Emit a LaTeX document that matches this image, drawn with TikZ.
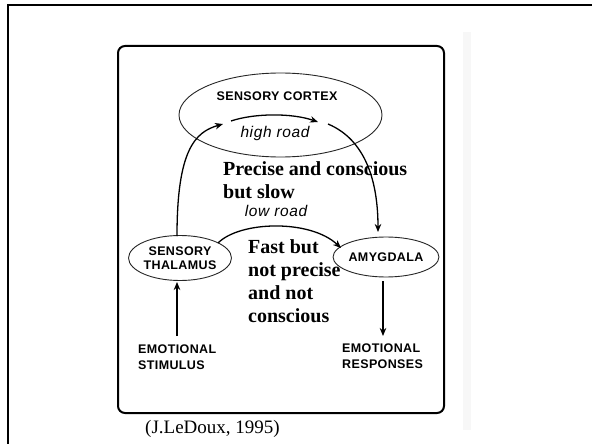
\documentclass[tikz,border=0pt]{standalone}
\usepackage{fontspec}
\setmainfont{Liberation Serif}
\newfontfamily\labfont[LetterSpace=3]{Liberation Sans}
\newfontfamily\roadfont[LetterSpace=4]{Liberation Sans}
\usetikzlibrary{shapes.geometric,arrows.meta}
\begin{document}
\begin{tikzpicture}[x=1pt,y=-1pt,
  oval/.style={ellipse,draw=black!85,line width=0.9pt,inner sep=0pt},
  captext/.style={font=\labfont\fontsize{12.5}{14}\selectfont\bfseries,align=center,inner sep=0pt},
  captextl/.style={font=\labfont\fontsize{12.5}{16}\selectfont\bfseries,align=left,inner sep=0pt,anchor=west},
  roadtext/.style={font=\roadfont\fontsize{15.5}{16}\selectfont\itshape,inner sep=0pt},
  notetext/.style={font=\fontsize{20}{23.3}\selectfont\bfseries,align=left,inner sep=0pt,anchor=north west},
  conn/.style={line width=1.3pt,-{Stealth[length=8pt,width=6.5pt,inset=2.5pt]}}]
\useasboundingbox (0,0) rectangle (592,444);
\fill[white] (0,0) rectangle (592,444);
% scan stripe
\fill[black!3] (463,32) rectangle (471,430);
% slide frame
\draw[line width=2.6pt] (8,446) -- (8,5) -- (594,5);
% inner rounded box
\draw[line width=2pt,rounded corners=7pt] (118,46) rectangle (444,413);
% nodes
\node[oval,minimum width=203pt,minimum height=84pt] (cortex) at (280.5,115) {};
\node[captext] (ctext) at (277,96) {SENSORY CORTEX};
\node[oval,minimum width=95pt,minimum height=45pt,captext] (thal) at (180,258) {SENSORY\\THALAMUS};
\node[oval,minimum width=92pt,minimum height=40pt,captext] (amyg) at (386,257) {AMYGDALA};
\node[captextl] (stim) at (138,357) {EMOTIONAL\\STIMULUS};
\node[captextl] (resp) at (342,356) {EMOTIONAL\\RESPONSES};
\node[roadtext] (high) at (275,133) {high road};
\node[roadtext] (low) at (276,211) {low road};
\node[notetext] (slow) at (223,161) {Precise and conscious\\but slow};
\node[notetext] (fast) at (248,239) {Fast but\\not precise\\and not\\conscious};
\node[font=\fontsize{19}{22}\selectfont,anchor=base west,inner sep=0pt] (src) at (145,433) {(J.LeDoux, 1995)};
% connector end points
\coordinate (hs) at (231,121);
\coordinate (he) at (318,122);
\coordinate (ts) at (177,236);
\coordinate (te) at (223,124);
\coordinate (cs) at (328,124);
\coordinate (ce) at (378,232);
\coordinate (ls) at (218,243);
\coordinate (le) at (341,248);
\coordinate (ss) at (177,336);
\coordinate (se) at (177,282);
\coordinate (rs) at (383,281);
\coordinate (re) at (383,336);
% connectors
\draw[conn] (hs) .. controls (255,113) and (292,113) .. (he);
\draw[conn] (ts) .. controls (177,150) and (195,132) .. (te);
\draw[conn] (cs) .. controls (366,140) and (378,182) .. (ce);
\draw[conn] (ls) .. controls (240,221) and (310,219) .. (le);
\draw[conn] (ss) -- (se);
\draw[conn] (rs) -- (re);
\end{tikzpicture}
\end{document}
